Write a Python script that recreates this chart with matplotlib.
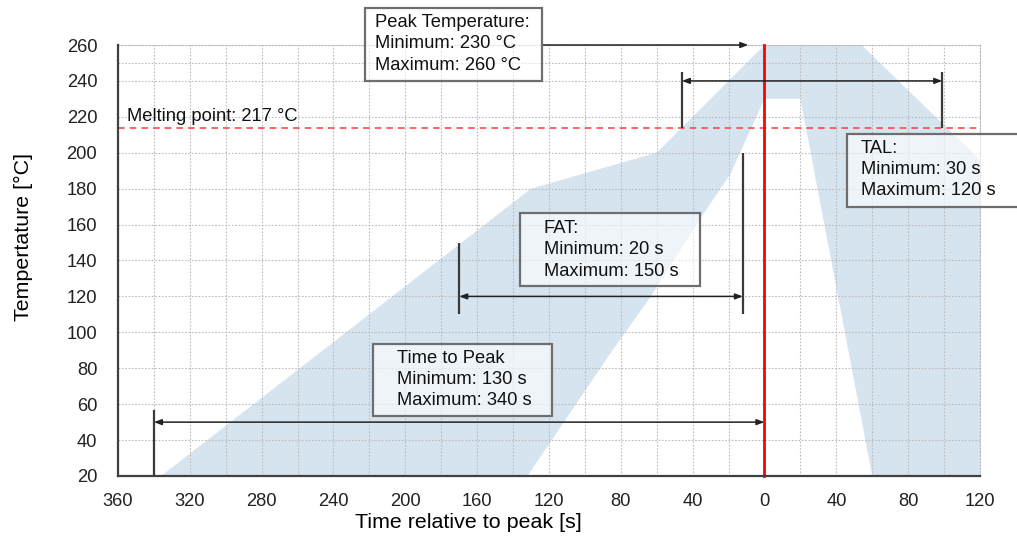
import matplotlib
matplotlib.use('Agg')
import matplotlib.pyplot as plt
from matplotlib.patches import Polygon, Rectangle
from matplotlib.ticker import MultipleLocator, FixedLocator

plt.rcParams['font.family'] = ['Liberation Sans', 'DejaVu Sans']

# process window (light blue band), time relative to peak [s] / temperature [°C]
band_t = [-336, -130, -60, 0, 54, 120, 120, 60, 20, 0, -10, -19, -36, -64, -86, -132]
band_T = [20, 180, 200, 260, 260, 196, 20, 20, 230, 230, 208, 188, 163, 119, 88, 20]

melting_T = 214          # where the dashed line is drawn
melting_label = 'Melting point: 217 °C'

x_ticks = list(range(-360, 121, 40))
y_ticks = list(range(20, 261, 20))

# dimension arrows: (t_start, t_end, T)
peak_arrow = (-124, -9, 260)
tal_arrow = (-46, 99, 240)
fat_arrow = (-170, -12, 120)
ttp_arrow = (-340, 0, 50)

# boxes: (t0, T0, t1, T1), text anchor (t, T of first line), lines
boxes = [
    ((-222.5, 240, -124, 280.7), (-216.9, 272.5),
     ['Peak Temperature:', 'Minimum: 230 °C', 'Maximum: 260 °C']),
    ((45.9, 170, 200, 210.3), (53.7, 202.6),
     ['TAL:', 'Minimum: 30 s', 'Maximum: 120 s']),
    ((-136.2, 125.9, -36, 166.3), (-122.8, 157.9),
     ['FAT:', 'Minimum: 20 s', 'Maximum: 150 s']),
    ((-218.2, 53.3, -118.2, 93.4), (-204.8, 85.7),
     ['Time to Peak', 'Minimum: 130 s', 'Maximum: 340 s']),
]

fig = plt.figure(figsize=(10.17, 5.37), dpi=100)
ax = fig.add_axes([0.116, 0.1136, 0.8476, 0.8026])

ax.add_patch(Polygon(list(zip(band_t, band_T)), closed=True,
                     facecolor='#d6e4f0', edgecolor='none', zorder=1))

ax.set_xlim(-360, 120)
ax.set_ylim(20, 260)
ax.xaxis.set_major_locator(FixedLocator(x_ticks))
ax.set_xticklabels([str(abs(v)) for v in x_ticks])
ax.yaxis.set_major_locator(FixedLocator(y_ticks))
ax.xaxis.set_minor_locator(MultipleLocator(20))
ax.yaxis.set_minor_locator(FixedLocator([250]))
ax.tick_params(which='both', length=0, labelsize=13.2, colors='#222222')
ax.tick_params(axis='x', pad=12)
ax.tick_params(axis='y', pad=15)

ax.set_axisbelow(False)
ax.grid(True, which='both', color='#bcbcbc', linestyle=(0, (1.5, 1.5)), linewidth=0.8, zorder=2)

for s in ['left', 'bottom']:
    ax.spines[s].set_color('#404040')
    ax.spines[s].set_linewidth(1.6)
    ax.spines[s].set_zorder(6)
for s in ['top', 'right']:
    ax.spines[s].set_color('#bcbcbc')
    ax.spines[s].set_linestyle((0, (1.5, 1.5)))
    ax.spines[s].set_linewidth(0.8)

ax.set_xlabel('Time relative to peak [s]', fontsize=15.4)
ax.xaxis.set_label_coords(0.406, -0.085)
ax.set_ylabel('Tempertature [°C]', fontsize=15.4)
ax.yaxis.set_label_coords(-0.099, 0.555)

# melting point
ax.axhline(melting_T, color='#ff4a4a', linestyle=(0, (4, 3)), linewidth=1.2, zorder=3)
ax.text(-355.2, melting_T + 1.5, melting_label, fontsize=13.2, ha='left', va='bottom',
        color='#111111', zorder=7)

# peak line
ax.plot([0, 0], [20, 260], color='#ff0000', linewidth=2, zorder=3, clip_on=False)

arrow_kw = dict(arrowstyle='<|-|>,head_length=0.45,head_width=0.17', color='#222222',
                linewidth=1.1, shrinkA=0, shrinkB=0)
single_kw = dict(arrow_kw, arrowstyle='-|>,head_length=0.45,head_width=0.17')


def dim_arrow(spec, kw):
    t0, t1, T = spec
    ax.annotate('', xy=(t1, T), xytext=(t0, T), arrowprops=kw,
                annotation_clip=False, zorder=5)


dim_arrow(peak_arrow, single_kw)
dim_arrow(tal_arrow, arrow_kw)
dim_arrow(fat_arrow, arrow_kw)
dim_arrow(ttp_arrow, arrow_kw)

tick_kw = dict(color='#3a3a3a', linewidth=1.6, zorder=5, solid_capstyle='butt')
ax.plot([tal_arrow[0]] * 2, [245, melting_T], **tick_kw)
ax.plot([tal_arrow[1]] * 2, [245, melting_T], **tick_kw)
ax.plot([fat_arrow[0]] * 2, [150, 110], **tick_kw)
ax.plot([fat_arrow[1]] * 2, [200, 110], **tick_kw)
ax.plot([ttp_arrow[0]] * 2, [57, 20], **tick_kw)

for (t0, T0, t1, T1), (tx, ty), lines in boxes:
    ax.add_patch(Rectangle((t0, T0), t1 - t0, T1 - T0, facecolor=(1, 1, 1, 0.6),
                           edgecolor='#6e6e6e', linewidth=1.6, zorder=8, clip_on=False))
    for i, line in enumerate(lines):
        ax.text(tx, ty - i * 11.9, line, fontsize=13.2, ha='left', va='center',
                color='#111111', zorder=9, clip_on=False)

fig.savefig('out.png', dpi=100)
